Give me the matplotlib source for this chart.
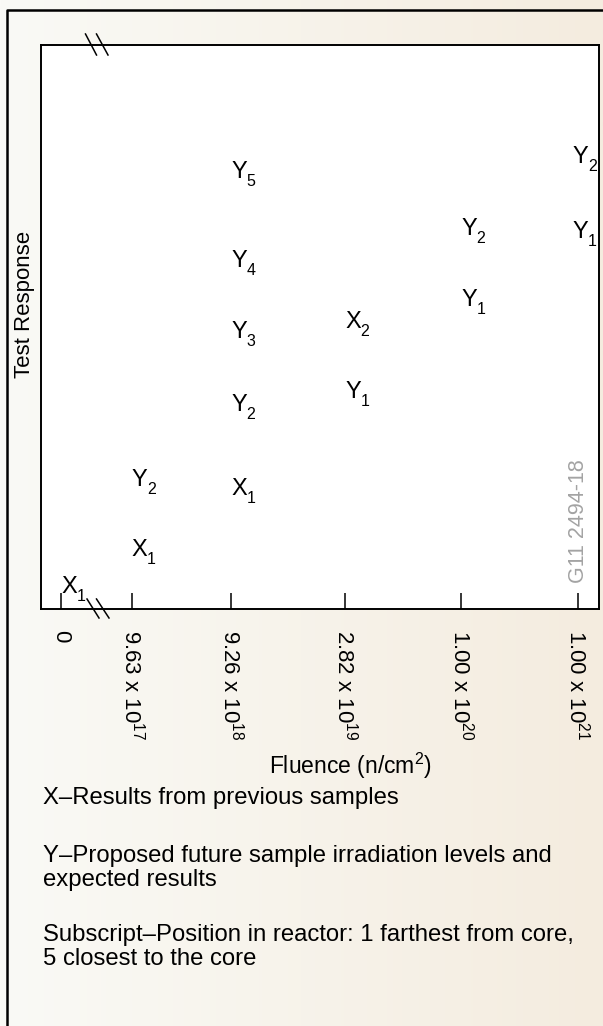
import numpy as np
from matplotlib import pyplot as plt
from matplotlib.lines import Line2D

plt.rcParams['font.family'] = ['Liberation Sans', 'DejaVu Sans']
plt.rcParams['mathtext.fontset'] = 'custom'
plt.rcParams['mathtext.rm'] = 'Liberation Sans'
plt.rcParams['mathtext.it'] = 'Liberation Sans:italic'
plt.rcParams['mathtext.bf'] = 'Liberation Sans:bold'

# fluence categories (axis is not to scale)
tick_pos = [3.6, 16.3, 34.1, 54.5, 75.3, 96.2]
tick_labels = ['0', '9.63 x 10$^{17}$', '9.26 x 10$^{18}$', '2.82 x 10$^{19}$',
               '1.00 x 10$^{20}$', '1.00 x 10$^{21}$']

# sample marks: letter, subscript, fluence index, test response (arbitrary units)
letters = ['X', 'X', 'Y', 'Y', 'Y', 'Y', 'Y', 'X', 'X', 'Y', 'Y', 'Y', 'Y', 'Y']
subs = ['1', '1', '2', '5', '4', '3', '2', '1', '2', '1', '2', '1', '2', '1']
cat_idx = [0, 1, 1, 2, 2, 2, 2, 2, 3, 3, 4, 4, 5, 5]
response = [2.8, 9.4, 21.8, 76.4, 60.6, 48.0, 35.1, 20.2, 49.8, 37.4, 66.3, 53.7, 79.1, 65.8]

notes = ['X\u2013Results from previous samples',
         'Y\u2013Proposed future sample irradiation levels and\nexpected results',
         'Subscript\u2013Position in reactor: 1 farthest from core,\n5 closest to the core']

W, H = 603, 1026
fig = plt.figure(figsize=(W / 100, H / 100), dpi=100)

# background gradient
bg = fig.add_axes([0, 0, 1, 1], zorder=-10)
grad = np.linspace(0, 1, 256).reshape(1, -1)
c0 = np.array([250, 250, 246]) / 255.
c1 = np.array([244, 236, 223]) / 255.
img = c0[None, None, :] * (1 - grad[..., None]) + c1[None, None, :] * grad[..., None]
bg.imshow(img, aspect='auto', extent=[0, 1, 0, 1])
bg.set_axis_off()

def fx(px):
  return px / W

def fy(py):
  return 1 - py / H

# outer frame (left and top only, image is cropped)
fig.add_artist(Line2D([fx(6.5), fx(6.5), 1], [0, fy(9.5), fy(9.5)], color='black', lw=1.8,
                      transform=fig.transFigure))

ax = fig.add_axes([fx(41), fy(609), fx(599) - fx(41), fy(45) - fy(609)])
ax.set_facecolor('white')
ax.set_xlim(0, 100)
ax.set_ylim(0, 100)
for s in ax.spines.values():
  s.set_linewidth(1.4)
ax.set_yticks([])
ax.set_xticks(tick_pos)
ax.set_xticklabels(tick_labels, rotation=270, fontsize=16, va='top', ha='center')
ax.tick_params(axis='x', direction='in', length=11.5, width=1.1, pad=15)

last = len(tick_pos) - 1
for l, s, i, r in zip(letters, subs, cat_idx, response):
  x = tick_pos[i]
  dx = -3.5 if i == last else 0
  ax.annotate(l, (x, r), xytext=(dx, 0), textcoords='offset points', fontsize=17,
              ha='left', va='baseline', annotation_clip=False)
  ax.annotate(s, (x, r), xytext=(dx + 11, -5.5), textcoords='offset points', fontsize=11.5,
              ha='left', va='baseline', annotation_clip=False)

# axis break marks
for (x0, y0, x1, y1) in [(85.5, 34, 96.5, 55), (96.5, 34, 108, 55),
                         (87, 599, 99, 618), (96.5, 599, 109, 618)]:
  fig.add_artist(Line2D([fx(x0), fx(x1)], [fy(y0), fy(y1)], color='black', lw=1.1,
                        transform=fig.transFigure))

fig.text(fx(25), fy(304), 'Test Response', rotation=90, fontsize=16, ha='center', va='center')
fig.text(fx(350), fy(766), 'Fluence (n/cm$^{2}$)', fontsize=16.5, ha='center', va='center')
fig.text(fx(578), fy(521), 'G11 2494-18', rotation=90, fontsize=15.5, color='#a3a3a3',
         ha='center', va='center')

note_y = [797, 855, 934]
for t, y in zip(notes, note_y):
  fig.text(fx(43), fy(y - 10), t, fontsize=17.2, ha='left', va='top', linespacing=1.14)

fig.savefig('out.png', dpi=100)
